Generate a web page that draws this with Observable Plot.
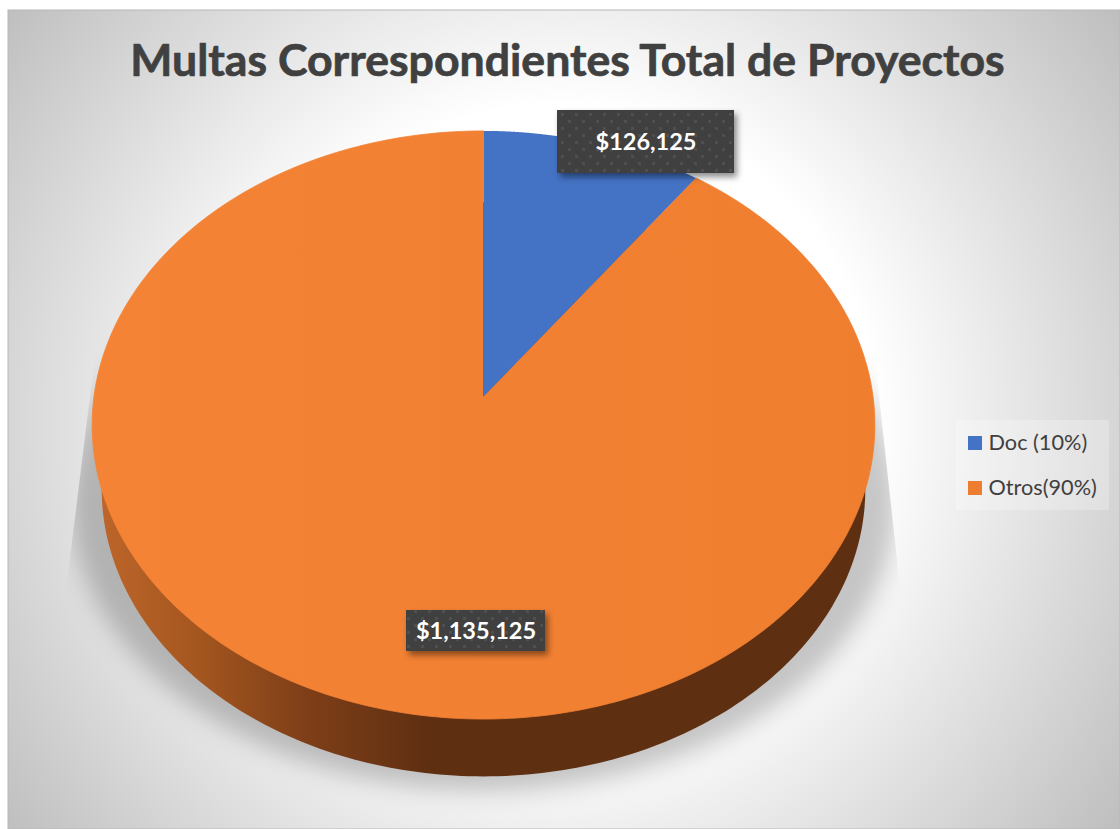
<!DOCTYPE html>
<html>
<head>
<meta charset="utf-8">
<script src="https://cdn.jsdelivr.net/npm/d3@7"></script>
<script src="https://cdn.jsdelivr.net/npm/@observablehq/plot@0.6"></script>
<style>
html,body{margin:0;padding:0;background:#fff;}
svg{display:block;}
</style>
</head>
<body>
<div id="chart"></div>
<script>
// Data
const titleText = "Multas Correspondientes Total de Proyectos";
const categories = ["Doc", "Otros"];
const values = [126125, 1135125];
const legendLabels = ["Doc (10%)", "Otros(90%)"];
const valueLabels = ["$126,125", "$1,135,125"];
const sliceColors = ["#4472c4", "#ed7d31"];
const sliceFills = ["#4472c4", "url(#topOrange)"];

// Layout of the tilted disc
const cx = 483, apexY = 396, depthK = 0.0968;
const topA = 389.5, topB = 291.3;
const baseA = 380, baseB = 284.4, baseY = 461;
const shadowA = 410, shadowB = 287, shadowY = 472;
const ring = (turn, a, b, y0) => {
  const t = turn * 2 * Math.PI, u = Math.sin(t), v = -Math.cos(t), w = 1 - depthK * v;
  return {x: cx + a * u / w, y: y0 + b * v / w};
};
const total = d3.sum(values);
const cum = d3.cumsum(values).map(d => d / total);
const turnsBetween = (a, b) => d3.range(0, 361).map(i => a + (b - a) * i / 360);
const slices = categories.map((c, i) => {
  const a = i ? cum[i - 1] : 0, b = cum[i];
  return [{x: cx, y: apexY}, ...turnsBetween(a, b).map(t => ring(t, topA, topB, apexY))];
});
const baseDisc = turnsBetween(0, 1).map(t => ring(t, baseA, baseB, baseY));
const shadowDisc = turnsBetween(0, 1).map(t => ring(t, shadowA, shadowB, shadowY));

// Annotation boxes
const labelBoxes = [
  {x1: 557, x2: 734, y1: 110, y2: 173, label: valueLabels[0]},
  {x1: 406, x2: 545, y1: 610, y2: 651, label: valueLabels[1]}
];
const legendBox = [{x1: 956, x2: 1109, y1: 420, y2: 510}];
const legendRows = legendLabels.map((label, i) => ({
  label, color: sliceColors[i], y: 443 + 45 * i
}));

const font = "Lato, 'Open Sans', sans-serif";
const withFilter = id => (index, scales, values, dims, ctx, next) => {
  const g = next(index, scales, values, dims, ctx);
  g.setAttribute("filter", `url(#${id})`);
  return g;
};
const clippedBlur = (index, scales, values, dims, ctx, next) => {
  const g = next(index, scales, values, dims, ctx);
  g.setAttribute("clip-path", "url(#planeClip)");
  g.querySelectorAll("path").forEach(p => p.setAttribute("filter", "url(#blur)"));
  return g;
};

const defs = () => {
  const d = d3.create("svg:defs");
  const bg = d.append("radialGradient").attr("id", "bg").attr("gradientUnits", "userSpaceOnUse")
    .attr("cx", 560).attr("cy", 420).attr("r", 700);
  [[0, "#ffffff"], [0.45, "#ffffff"], [1, "#bdbdbd"]].forEach(([o, c]) =>
    bg.append("stop").attr("offset", o).attr("stop-color", c));
  const wall = d.append("linearGradient").attr("id", "wall").attr("gradientUnits", "userSpaceOnUse")
    .attr("x1", 100).attr("x2", 880).attr("y1", 0).attr("y2", 0);
  [[0, "#bd652a"], [0.12, "#a5571f"], [0.26, "#7f3f18"], [0.42, "#5f2f11"], [1, "#5f2f11"]].forEach(([o, c]) =>
    wall.append("stop").attr("offset", o).attr("stop-color", c));
  const top = d.append("linearGradient").attr("id", "topOrange").attr("gradientUnits", "userSpaceOnUse")
    .attr("x1", 90).attr("x2", 880).attr("y1", 0).attr("y2", 0);
  [[0, "#f58336"], [1, "#ef7e2f"]].forEach(([o, c]) =>
    top.append("stop").attr("offset", o).attr("stop-color", c));
  const blur = d.append("filter").attr("id", "blur").attr("filterUnits", "userSpaceOnUse")
    .attr("x", 0).attr("y", 100).attr("width", 1120).attr("height", 729);
  blur.append("feGaussianBlur").attr("stdDeviation", 12);
  const drop = d.append("filter").attr("id", "drop").attr("x", "-10%").attr("y", "-20%").attr("width", "125%").attr("height", "150%");
  drop.append("feDropShadow").attr("dx", 3).attr("dy", 4).attr("stdDeviation", 3).attr("flood-color", "#000").attr("flood-opacity", 0.45);
  const pat = d.append("pattern").attr("id", "dots").attr("patternUnits", "userSpaceOnUse").attr("width", 14).attr("height", 14);
  pat.append("rect").attr("width", 14).attr("height", 14).attr("fill", "#404040");
  [[1, 1], [8, 8]].forEach(([x, y]) =>
    pat.append("rect").attr("x", x).attr("y", y).attr("width", 3).attr("height", 3).attr("fill", "#505050"));
  d.append("clipPath").attr("id", "planeClip").append("polygon")
    .attr("points", "97,335 63,610 63,829 902,829 902,610 872,335");
  return d.node();
};

const chart = Plot.plot({
  width: 1120, height: 829,
  margin: 0,
  style: {background: "#fff", fontFamily: font, overflow: "visible"},
  x: {domain: [0, 1120], range: [0, 1120], axis: null},
  y: {domain: [0, 829], range: [0, 829], axis: null},
  marks: [
    defs,
    Plot.rect([{x1: 8, x2: 1120, y1: 10, y2: 829}], {x1: "x1", x2: "x2", y1: "y1", y2: "y2", fill: "url(#bg)", stroke: "#b8b8b8", strokeWidth: 1}),
    Plot.line(shadowDisc, {x: "x", y: "y", fill: "#000", fillOpacity: 0.22, stroke: "none", render: clippedBlur}),
    Plot.line(baseDisc, {x: "x", y: "y", fill: "url(#wall)", stroke: "none"}),
    Plot.line(slices[1], {x: "x", y: "y", fill: sliceFills[1], stroke: sliceFills[1], strokeWidth: 0.8}),
    Plot.line(slices[0], {x: "x", y: "y", fill: sliceFills[0], stroke: "none"}),
    Plot.rect(labelBoxes, {x1: "x1", x2: "x2", y1: "y1", y2: "y2", fill: "url(#dots)", render: withFilter("drop")}),
    Plot.text(labelBoxes, {
      x: d => (d.x1 + d.x2) / 2, y: d => (d.y1 + d.y2) / 2, text: "label",
      fill: "#fff", fontWeight: 700, fontSize: 23.5, fontFamily: font
    }),
    Plot.text([titleText], {
      x: () => 567, y: () => 61, text: d => d,
      fill: "#404040", stroke: "#404040", strokeWidth: 0.7, fontWeight: 700, fontSize: 44.6, fontFamily: font
    }),
    Plot.rect(legendBox, {x1: "x1", x2: "x2", y1: "y1", y2: "y2", fill: "#fff", fillOpacity: 0.25}),
    Plot.rect(legendRows, {
      x1: () => 968, x2: () => 982, y1: d => d.y - 7, y2: d => d.y + 7, fill: "color"
    }),
    Plot.text(legendRows, {
      x: () => 988, y: "y", text: "label", textAnchor: "start",
      fill: "#404040", fontSize: 21.7, fontFamily: font
    })
  ]
});
document.getElementById("chart").appendChild(chart);
</script>
</body>
</html>
